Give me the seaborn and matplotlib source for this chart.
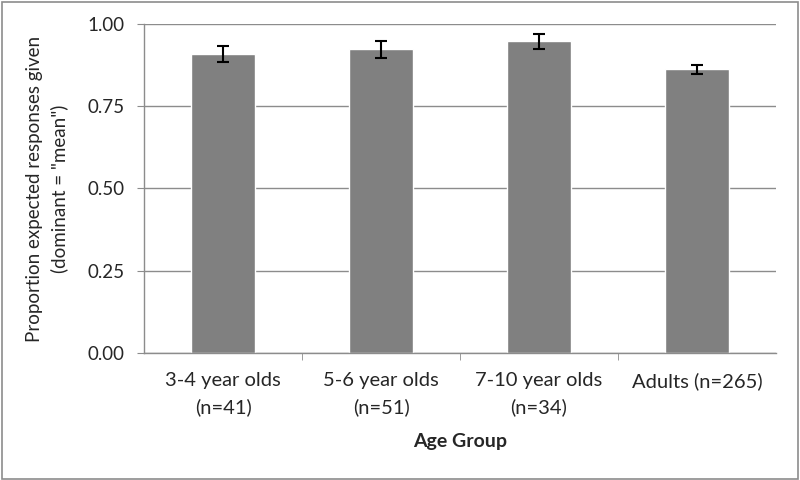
import pandas as pd
import matplotlib.pyplot as plt
import seaborn as sns
from matplotlib.patches import Rectangle

# data
groups = ['3-4 year olds\n(n=41)', '5-6 year olds\n(n=51)', '7-10 year olds\n(n=34)', 'Adults (n=265)']
proportion = [0.909, 0.923, 0.947, 0.862]
err = [0.024, 0.025, 0.022, 0.014]

df = pd.DataFrame({'group': groups, 'prop': proportion, 'err': err})

sns.set_style('white')
plt.rcParams['font.family'] = ['Lato', 'DejaVu Sans']

fig = plt.figure(figsize=(8, 4.8), dpi=100)
ax = fig.add_axes([0.18, 0.2646, 0.79, 0.6854])

sns.barplot(data=df, x='group', y='prop', color='#808080', saturation=1,
            width=0.4, errorbar=None, ax=ax)
ax.errorbar(range(len(df)), df['prop'], yerr=df['err'], fmt='none',
            ecolor='black', elinewidth=1.5, capsize=4.5, capthick=1.5)

ax.set_ylim(0, 1)
ax.set_xlim(-0.5, len(df) - 0.5)
ax.set_yticks([0, 0.25, 0.5, 0.75, 1.0])
ax.set_yticklabels(['0.00', '0.25', '0.50', '0.75', '1.00'])
ax.yaxis.grid(True, color='#8c8c8c', linewidth=1)
ax.set_axisbelow(True)

for s in ['top', 'right']:
    ax.spines[s].set_visible(False)
for s in ['left', 'bottom']:
    ax.spines[s].set_color('#8c8c8c')
    ax.spines[s].set_linewidth(1)

ax.tick_params(axis='y', which='major', direction='out', length=5, color='#8c8c8c',
               left=True, labelsize=13.5, pad=9)
ax.set_xticks([0.5, 1.5, 2.5], minor=True)
ax.tick_params(axis='x', which='minor', direction='out', length=5, color='#8c8c8c', bottom=True)
ax.tick_params(axis='x', which='major', length=0, labelsize=14.5, pad=14)
for lbl in ax.get_xticklabels():
    lbl.set_linespacing(1.6)

ax.set_xlabel('Age Group', fontsize=14, fontweight='bold', labelpad=12)
ax.set_ylabel('Proportion expected responses given\n(dominant = "mean")', fontsize=13.5,
              labelpad=14, linespacing=1.45)

fig.patches.append(Rectangle((0.002, 0.003), 0.995, 0.993, transform=fig.transFigure,
                             fill=False, edgecolor='#8c8c8c', linewidth=1.2))

fig.savefig('out.png', dpi=100)
